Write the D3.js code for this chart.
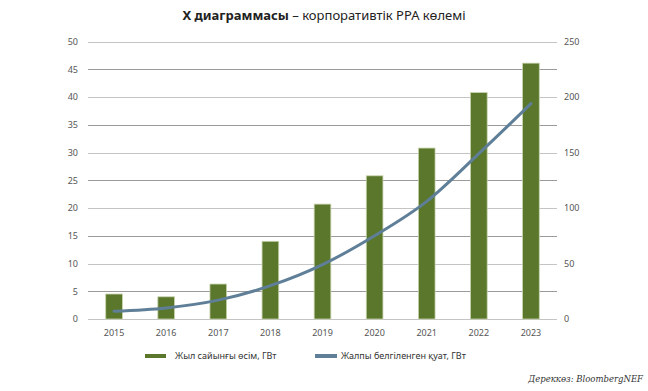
<!DOCTYPE html>
<html><head><meta charset="utf-8">
<script src="https://cdn.jsdelivr.net/npm/d3@7"></script>
<style>body{margin:0;background:#fff}svg{display:block}</style>
</head><body><svg id="c" width="648" height="391"></svg>
<script>
const years = ["2015","2016","2017","2018","2019","2020","2021","2022","2023"];
const annualGrowth = [4.5, 4.0, 6.3, 14.0, 20.7, 25.8, 30.8, 40.8, 46.1];
const cumulative = [7, 10, 17, 30, 49, 75, 106, 149, 194];
const leftTicks = [0,5,10,15,20,25,30,35,40,45,50];
const rightTicks = [0,50,100,150,200,250];
const seriesNames = ["Жыл сайынғы өсім, ГВт", "Жалпы белгіленген қуат, ГВт"];

const svg = d3.select("#c");
const font = "'Noto Sans', sans-serif";
const x = d3.scaleBand().domain(years).range([88, 557]).paddingInner(0.68).paddingOuter(0.34);
const yL = d3.scaleLinear().domain([0,50]).range([319, 41.5]);
const yR = d3.scaleLinear().domain([0,250]).range([319, 41.5]);

// title
const t = svg.append("text").attr("x", 324).attr("y", 20).attr("text-anchor","middle")
  .attr("font-family", font).attr("font-size", 13).attr("fill","#222");
t.append("tspan").attr("font-weight","bold").text("X диаграммасы");
t.append("tspan").text(" – корпоративтік PPA көлемі");

// gridlines
svg.append("g").selectAll("line").data(leftTicks).join("line")
  .attr("x1", 88).attr("x2", 557)
  .attr("y1", d => Math.round(yL(d)) + 0.5).attr("y2", d => Math.round(yL(d)) + 0.5)
  .attr("stroke", (d,i) => i % 2 ? "#9a9a9a" : "#c4c4c4").attr("stroke-width", 1);

// left axis
const gl = svg.append("g").attr("transform","translate(78,0)")
  .call(d3.axisLeft(yL).tickValues(leftTicks).tickSize(0).tickPadding(0));
gl.select(".domain").remove();
gl.selectAll("text").attr("font-family", font).attr("font-size", 9).attr("fill","#555");

// right axis
const gr = svg.append("g").attr("transform","translate(564,0)")
  .call(d3.axisRight(yR).tickValues(rightTicks).tickSize(0).tickPadding(0));
gr.select(".domain").remove();
gr.selectAll("text").attr("font-family", font).attr("font-size", 9).attr("fill","#555");

// bottom axis
const gb = svg.append("g").attr("transform","translate(0,330)")
  .call(d3.axisBottom(x).tickSize(0).tickPadding(0));
gb.select(".domain").remove();
gb.selectAll("text").attr("font-family", font).attr("font-size", 9).attr("fill","#555");

// bars
svg.append("g").selectAll("rect").data(years).join("rect")
  .attr("x", d => x(d)).attr("width", x.bandwidth())
  .attr("y", (d,i) => yL(annualGrowth[i]))
  .attr("height", (d,i) => yL(0) - yL(annualGrowth[i]))
  .attr("fill", "#5a772c").attr("stroke", "#c9d3ad").attr("stroke-width", 0.8);

// line
const line = d3.line().x((d,i) => x(years[i]) + x.bandwidth()/2).y(d => yR(d)).curve(d3.curveMonotoneX);
svg.append("path").datum(cumulative).attr("d", line).attr("fill","none")
  .attr("stroke", "#5f7f98").attr("stroke-width", 3).attr("stroke-linecap","round");

// legend
const lg = svg.append("g").attr("font-family", font).attr("font-size", 9).attr("fill","#333");
lg.append("rect").attr("x",145).attr("y",354).attr("width",21).attr("height",4).attr("fill","#5a772c");
lg.append("text").attr("x",175).attr("y",359).text(seriesNames[0]);
lg.append("rect").attr("x",315).attr("y",354).attr("width",22).attr("height",4).attr("fill","#5f7f98");
lg.append("text").attr("x",341).attr("y",359).text(seriesNames[1]);

// source
svg.append("text").attr("x",643).attr("y",382).attr("text-anchor","end")
  .attr("font-family","'DejaVu Serif', 'Liberation Serif', serif").attr("font-style","italic")
  .attr("font-size",8.5).attr("fill","#333").text("Дереккөз: BloombergNEF");
</script></body></html>
